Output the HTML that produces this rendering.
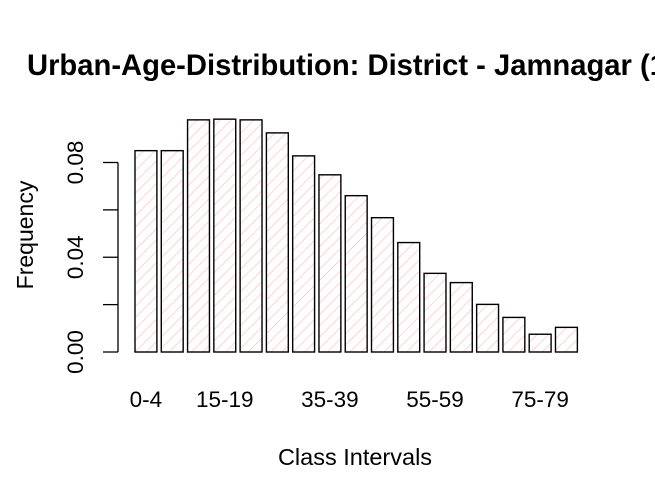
<!DOCTYPE html>
<html><head><meta charset="utf-8"><style>
html,body{margin:0;padding:0;background:#fff;overflow:hidden;}
svg{display:block;font-family:"Liberation Sans",Arial,sans-serif;}
</style></head><body>
<svg id="chart" width="655" height="502" viewBox="0 0 655 502">
<defs>
<pattern id="hatch" patternUnits="userSpaceOnUse" width="8" height="8" patternTransform="rotate(45)">
<line x1="0" y1="0" x2="0" y2="8" stroke="#ffb6c1" stroke-width="1.2"/>
</pattern>
</defs>
<text x="27" y="75" font-size="29.2" font-weight="bold">Urban-Age-Distribution: District - Jamnagar (1991)</text>
<g id="bars"></g>
<g id="yaxis"></g>
<g id="xlabels"></g>
<text x="355" y="465" font-size="23.5" text-anchor="middle">Class Intervals</text>
<text transform="translate(33,235) rotate(-90)" font-size="23" text-anchor="middle">Frequency</text>
</svg>
<script>
const categories = ["0-4","5-9","10-14","15-19","20-24","25-29","30-34","35-39","40-44","45-49","50-54","55-59","60-64","65-69","70-74","75-79","80+"];
const values = [0.085,0.085,0.098,0.0983,0.098,0.0925,0.0828,0.0748,0.066,0.0567,0.0462,0.0332,0.0293,0.0201,0.0146,0.0075,0.0104];
const yTicks = [0,0.02,0.04,0.06,0.08];
const yTickLabels = ["0.00","0.04","0.08"];
const labelIdx = [0,3,7,11,15];

const NS="http://www.w3.org/2000/svg";
const y0=352, yScale=(352-162.5)/0.08;
const y=v=>y0-v*yScale;
const left=135, pitch=26.28, bw=21.9;
const x=i=>left+i*pitch;
const bars=document.getElementById('bars');
values.forEach((v,i)=>{
  const r=document.createElementNS(NS,'rect');
  r.setAttribute('x',x(i));r.setAttribute('y',y(v));
  r.setAttribute('width',bw);r.setAttribute('height',y0-y(v));
  r.setAttribute('fill','url(#hatch)');r.setAttribute('stroke','#000');r.setAttribute('stroke-width','1.4');
  
  
  bars.appendChild(r);
});
const ya=document.getElementById('yaxis');
const al=document.createElementNS(NS,'line');
al.setAttribute('x1',118);al.setAttribute('x2',118);al.setAttribute('y1',y(yTicks[0]));al.setAttribute('y2',y(yTicks[yTicks.length-1]));
al.setAttribute('stroke','#000');al.setAttribute('stroke-width','1.3');


ya.appendChild(al);
yTicks.forEach(t=>{
  const l=document.createElementNS(NS,'line');
  l.setAttribute('x1',103);l.setAttribute('x2',118);l.setAttribute('y1',y(t));l.setAttribute('y2',y(t));
  l.setAttribute('stroke','#000');l.setAttribute('stroke-width','1.3');
  
  
  ya.appendChild(l);
});
yTickLabels.forEach(s=>{
  const v=parseFloat(s);
  const t=document.createElementNS(NS,'text');
  t.setAttribute('transform','translate(83,'+y(v)+') rotate(-90)');
  t.setAttribute('text-anchor','middle');t.setAttribute('font-size','22.5');
  t.textContent=s;
  
  
  ya.appendChild(t);
});
const xl=document.getElementById('xlabels');
labelIdx.forEach(i=>{
  const t=document.createElementNS(NS,'text');
  t.setAttribute('x',x(i)+bw/2);t.setAttribute('y',407);
  t.setAttribute('text-anchor','middle');t.setAttribute('font-size','22.5');
  t.textContent=categories[i];
  
  
  xl.appendChild(t);
});
</script>
</body></html>
